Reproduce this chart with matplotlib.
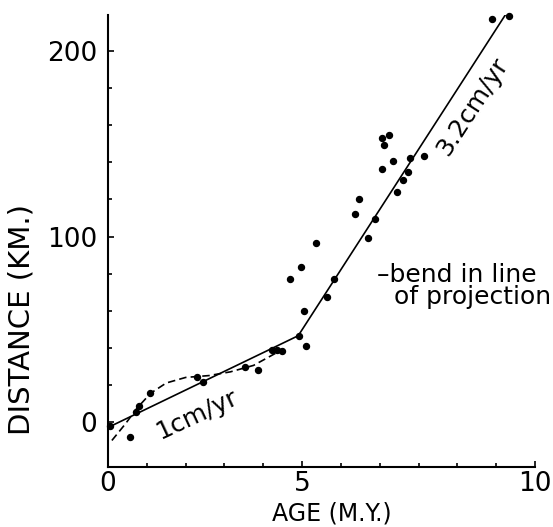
import matplotlib.pyplot as plt
import numpy as np
from matplotlib.ticker import FixedLocator

plt.rcParams['font.family'] = ['DejaVu Sans']

# ------------------------------------------------------------
# data
# ------------------------------------------------------------
age = [0.05, 0.57, 0.72, 0.81, 1.08, 2.29, 2.46, 3.53, 3.87, 4.22, 4.35, 4.48,
       4.91, 5.09, 5.06, 4.69, 4.97, 5.36, 5.65, 5.83, 6.69, 6.88, 6.35, 6.47,
       7.44, 7.59, 7.72, 7.05, 7.35, 7.77, 8.14, 7.05, 7.23, 7.12, 9.89, 10.34]
dist = [-2.0, -8.4, 5.6, 8.6, 15.5, 24.4, 21.7, 29.8, 28.0, 39.0, 38.8, 38.3,
        46.5, 41.1, 60.0, 77.1, 83.7, 96.7, 67.2, 76.9, 99.0, 109.4, 112.1, 120.0,
        124.2, 130.5, 134.9, 136.4, 140.7, 142.2, 143.6, 152.9, 154.7, 149.3, 217.3, 219.0]

# two-rate fit (1 cm/yr then 3.2 cm/yr)
fit_age = [0.05, 4.9, 10.23]
fit_dist = [-2.5, 46.5, 219.4]

# dashed curve near the origin
dash_age = [0.1, 0.45, 0.75, 1.1, 1.5, 2.0, 2.6, 3.15, 3.75, 4.4]
dash_dist = [-10.0, -1.0, 7.5, 15.5, 21.0, 24.0, 25.0, 27.0, 30.5, 38.0]

# the original axis puts its "10" at the end of the 11th tick interval
x_major = [0, 5, 11]
x_major_labels = ['0', '5', '10']
x_minor = [1, 2, 3, 4, 6, 7, 8, 9, 10]
y_major = [0, 100, 200]
y_minor = [20, 40, 60, 80, 120, 140, 160, 180]

FS_TICK = 19
FS_XLABEL = 17
FS_YLABEL = 21
FS_NOTE = 18

fig = plt.figure(figsize=(5.53, 5.27), dpi=100)
ax = fig.add_axes([0.1953, 0.1139, 0.7722, 0.8576])

ax.plot(fit_age, fit_dist, color='black', linewidth=1.2, zorder=2)
ax.plot(dash_age, dash_dist, color='black', linewidth=1.2,
        linestyle=(0, (4.5, 2.5)), zorder=2)
ax.plot(age, dist, linestyle='none', marker='o', markersize=4.3,
        color='black', clip_on=False, zorder=3)

ax.set_xlim(0, 11.0)
ax.set_ylim(-24.3, 219.5)

ax.spines['top'].set_visible(False)
ax.spines['right'].set_visible(False)
ax.spines['left'].set_linewidth(1.5)
ax.spines['bottom'].set_linewidth(1.5)

ax.xaxis.set_major_locator(FixedLocator(x_major))
ax.set_xticklabels(x_major_labels)
ax.xaxis.set_minor_locator(FixedLocator(x_minor))
ax.yaxis.set_major_locator(FixedLocator(y_major))
ax.yaxis.set_minor_locator(FixedLocator(y_minor))
ax.tick_params(which='both', direction='in', width=1.2, labelsize=FS_TICK)
ax.tick_params(which='major', length=4)
ax.tick_params(which='minor', length=3)
ax.tick_params(axis='x', pad=3)
ax.tick_params(axis='y', pad=8)

ax.set_xlabel('AGE (M.Y.)', fontsize=FS_XLABEL, va='center')
ax.xaxis.set_label_coords(0.5246, -0.1025)
ax.set_ylabel('DISTANCE (KM.)', fontsize=FS_YLABEL, va='center')
ax.yaxis.set_label_coords(-0.2014, 0.327)

# rate labels along the lines
ax.text(2.3, 4.2, '1cm/yr', fontsize=FS_NOTE, rotation=25,
        rotation_mode='anchor', ha='center', va='center')
ax.text(9.38, 170.0, '3.2cm/yr', fontsize=FS_NOTE, rotation=57,
        rotation_mode='anchor', ha='center', va='center')

# note on the right
ax.text(6.93, 79.2, '–bend in line', fontsize=FS_NOTE, ha='left', va='center')
ax.text(7.37, 67.4, 'of projection', fontsize=FS_NOTE, ha='left', va='center')

fig.savefig('out.png', dpi=100)
